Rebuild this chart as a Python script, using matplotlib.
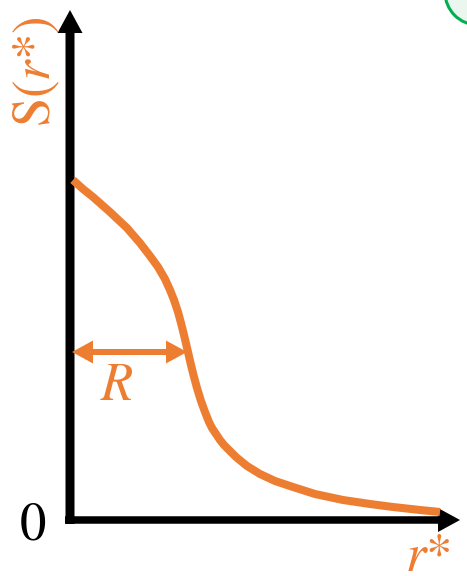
import numpy as np
import matplotlib
matplotlib.use("Agg")
import matplotlib.pyplot as plt
from matplotlib.patches import Circle

plt.rcParams['mathtext.fontset'] = 'stix'

ORANGE = '#ED7D31'

# structure factor S(r*) against reduced distance r*
r_star = [0.03, 0.13, 0.23, 0.40, 0.57, 0.70, 0.80, 0.88, 0.95, 1.00, 1.04, 1.08,
          1.11, 1.14, 1.18, 1.21, 1.24, 1.27, 1.31, 1.35, 1.39, 1.42, 1.46, 1.50,
          1.54, 1.59, 1.66, 1.77, 1.90, 2.05, 2.23, 2.45, 2.73, 3.00, 3.23, 3.50, 3.70]
s_val = [3.40, 3.31, 3.23, 3.08, 2.92, 2.77, 2.64, 2.53, 2.41, 2.30, 2.20, 2.08,
         1.97, 1.85, 1.68, 1.55, 1.43, 1.32, 1.19, 1.08, 0.98, 0.92, 0.86, 0.80,
         0.75, 0.70, 0.63, 0.54, 0.46, 0.39, 0.33, 0.26, 0.20, 0.16, 0.13, 0.10, 0.08]

R = 1.17        # width marked on the curve
R_level = 1.68  # height of the R arrow

fig = plt.figure(figsize=(4.67, 5.76), dpi=100)
ax = fig.add_axes([0, 0, 1, 1])
ax.set_xlim(-0.70, 3.97)
ax.set_ylim(-0.56, 5.20)
ax.axis('off')

# axes drawn as thick arrows
ax.arrow(0, -0.04, 0, 5.14, width=0.09, head_width=0.25, head_length=0.23,
         length_includes_head=True, color='black', lw=0)
ax.arrow(-0.05, 0, 3.95, 0, width=0.075, head_width=0.24, head_length=0.22,
         length_includes_head=True, color='black', lw=0)

ax.plot(r_star, s_val, color=ORANGE, lw=5.8, solid_capstyle='butt', solid_joinstyle='round')

# double arrow for R: two overlapping single arrows
ax.arrow(R - 0.3, R_level, 0.02 - (R - 0.3), 0, width=0.06, head_width=0.23, head_length=0.21,
         length_includes_head=True, color=ORANGE, lw=0)
ax.arrow(0.3, R_level, R - 0.3, 0, width=0.06, head_width=0.23, head_length=0.21,
         length_includes_head=True, color=ORANGE, lw=0)

ax.text(0.47, 1.35, r'$R$', color=ORANGE, fontsize=38, ha='center', va='center')
ax.text(-0.37, -0.05, r'$\mathrm{0}$', color='black', fontsize=38, ha='center', va='center')
ax.text(3.35, -0.51, r'$r\mathrm{*}$', color=ORANGE, fontsize=38, ha='left', va='baseline')
ax.text(-0.20, 4.48, r'$\mathrm{S}(r\mathrm{*})$', color=ORANGE, fontsize=38,
        rotation=90, rotation_mode='anchor', ha='center', va='baseline')

ax.add_patch(Circle((4.08, 5.28), 0.33, facecolor='#EAF6EE', edgecolor='#00B050', lw=2.2))

fig.savefig('out.png', dpi=100)
